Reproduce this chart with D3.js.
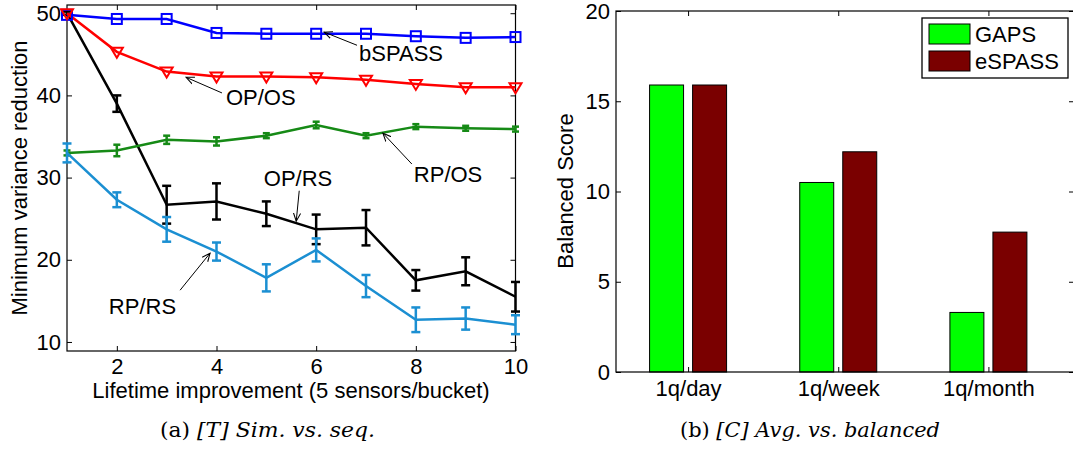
<!DOCTYPE html>
<meta charset="utf-8">
<script src="https://d3js.org/d3.v7.min.js"></script>
<style>
  body { margin: 0; background: #fff; }
  text { font-family: "Liberation Sans", Arial, sans-serif; font-size: 22px; fill: #000; }
  .cap { font-family: "DejaVu Serif", "Liberation Serif", serif; font-size: 20px; }
</style>
<div id="my_dataviz"></div>
<script>

// ---- data, left panel (a) ----
var lifetime = [1, 2, 3, 4, 5, 6, 7, 8, 9, 10];
var bspass   = [49.8, 49.3, 49.3, 47.6, 47.5, 47.5, 47.5, 47.2, 47.0, 47.1];
var opos     = [50.0, 45.3, 42.9, 42.3, 42.3, 42.2, 41.9, 41.4, 41.0, 41.0];
var rpos     = [33.0, 33.3, 34.6, 34.4, 35.1, 36.4, 35.1, 36.2, 36.0, 35.9];
var rposErr  = [0.3, 0.7, 0.5, 0.5, 0.3, 0.4, 0.3, 0.3, 0.3, 0.3];
var oprs     = [50.0, 39.0, 26.7, 27.1, 25.6, 23.7, 23.9, 17.5, 18.6, 15.5];
var oprsErr  = [0.2, 1.0, 2.3, 2.2, 1.5, 1.8, 2.15, 1.25, 1.7, 1.8];
var rprs     = [33.0, 27.3, 23.7, 21.0, 17.8, 21.2, 16.8, 12.7, 12.85, 12.1];
var rprsErr  = [1.15, 0.9, 1.5, 1.1, 1.65, 1.4, 1.35, 1.5, 1.35, 1.15];
var xTicksA  = [2, 4, 6, 8, 10];
var yTicksA  = [10, 20, 30, 40, 50];

// ---- data, right panel (b) ----
var periods  = ["1q/day", "1q/week", "1q/month"];
var schemes  = ["GAPS", "eSPASS"];
var gaps     = [15.9, 10.5, 3.3];
var espass   = [15.9, 12.2, 7.75];
var yTicksB  = [0, 5, 10, 15, 20];

var svg = d3.select("#my_dataviz")
  .append("svg")
    .attr("width", 1073)
    .attr("height", 449);

svg.append("defs").append("marker")
    .attr("id", "arrow")
    .attr("viewBox", "0 0 10 10")
    .attr("refX", 9).attr("refY", 5)
    .attr("markerWidth", 9).attr("markerHeight", 9)
    .attr("markerUnits", "userSpaceOnUse")
    .attr("orient", "auto")
  .append("path")
    .attr("d", "M0,1 L9,5 L0,9")
    .attr("fill", "none")
    .attr("stroke", "black")
    .attr("stroke-width", 1.2);

// ================= panel (a) =================
var x = d3.scaleLinear().domain([1, 10]).range([67, 515.5]);
var y = d3.scaleLinear().domain([8.9, 51]).range([351, 5]);

function styleAxis(g) {
  g.selectAll("path").remove();
  g.selectAll("line").attr("stroke", "black");
  g.selectAll("text").style("font-size", "22px").style("font-family", "Liberation Sans, Arial, sans-serif");
}

svg.append("g").attr("transform", "translate(0,351)")
  .call(d3.axisBottom(x).tickValues(xTicksA).tickSizeInner(-5).tickSizeOuter(0).tickPadding(7))
  .call(styleAxis);
svg.append("g").attr("transform", "translate(0,5)")
  .call(d3.axisTop(x).tickValues(xTicksA).tickSizeInner(-5).tickSizeOuter(0).tickFormat(""))
  .call(styleAxis);
svg.append("g").attr("transform", "translate(67,0)")
  .call(d3.axisLeft(y).tickValues(yTicksA).tickSizeInner(-5).tickSizeOuter(0).tickPadding(6))
  .call(styleAxis);
svg.append("g").attr("transform", "translate(515.5,0)")
  .call(d3.axisRight(y).tickValues(yTicksA).tickSizeInner(-5).tickSizeOuter(0).tickFormat(""))
  .call(styleAxis);

svg.append("rect")
  .attr("x", 67).attr("y", 5).attr("width", 515.5 - 67).attr("height", 346)
  .attr("fill", "none").attr("stroke", "black").attr("stroke-width", 1.2);

var line = d3.line()
  .x(function(d, i) { return x(lifetime[i]) })
  .y(function(d) { return y(d) });

function drawSeries(vals, err, color, capW) {
  svg.append("path")
    .datum(vals)
    .attr("fill", "none")
    .attr("stroke", color)
    .attr("stroke-width", 2.5)
    .attr("d", line);
  if (!err) return;
  var g = svg.append("g").attr("stroke", color).attr("stroke-width", 2.5);
  vals.forEach(function(v, i) {
    var cx = x(lifetime[i]), y1 = y(v + err[i]), y2 = y(v - err[i]);
    g.append("line").attr("x1", cx).attr("x2", cx).attr("y1", y1).attr("y2", y2);
    g.append("line").attr("x1", cx - capW).attr("x2", cx + capW).attr("y1", y1).attr("y2", y1);
    g.append("line").attr("x1", cx - capW).attr("x2", cx + capW).attr("y1", y2).attr("y2", y2);
  });
}

drawSeries(oprs, oprsErr, "black", 4.5);
drawSeries(rpos, rposErr, "#168a16", 3.5);
drawSeries(rprs, rprsErr, "#1b8fd2", 4.5);
drawSeries(bspass, null, "#0000ff");
drawSeries(opos, null, "#ff0000");

svg.append("g").selectAll("rect")
  .data(bspass).enter().append("rect")
    .attr("x", function(d, i) { return x(lifetime[i]) - 5 })
    .attr("y", function(d) { return y(d) - 5 })
    .attr("width", 10).attr("height", 10)
    .attr("fill", "none").attr("stroke", "#0000ff").attr("stroke-width", 2);

svg.append("g").selectAll("path")
  .data(opos).enter().append("path")
    .attr("transform", function(d, i) { return "translate(" + x(lifetime[i]) + "," + y(d) + ")" })
    .attr("d", "M-6,-4 L6,-4 L0,6 Z")
    .attr("fill", "none").attr("stroke", "#ff0000").attr("stroke-width", 2);

// labels with arrows, in data coordinates: text start, text centre, arrow tail, arrow tip
var notes = [
  {t: "bSPASS", tx: 6.86, ty: 45.15, ax: 6.82, ay: 46.1, bx: 6.16, by: 47.7},
  {t: "OP/OS",  tx: 4.19, ty: 39.8,  ax: 4.11, ay: 40.3, bx: 3.39, by: 42.2},
  {t: "RP/OS",  tx: 7.96, ty: 30.4,  ax: 7.92, ay: 31.65, bx: 7.34, by: 35.4},
  {t: "OP/RS",  tx: 4.95, ty: 29.9,  ax: 5.66, ay: 28.4, bx: 5.6, by: 24.7},
  {t: "RP/RS",  tx: 1.84, ty: 14.4,  ax: 3.27, ay: 16.3, bx: 3.87, by: 20.8}
];
notes.forEach(function(n) {
  svg.append("line")
    .attr("x1", x(n.ax)).attr("y1", y(n.ay))
    .attr("x2", x(n.bx)).attr("y2", y(n.by))
    .attr("stroke", "black").attr("stroke-width", 1)
    .attr("marker-end", "url(#arrow)");
  svg.append("text")
    .attr("x", x(n.tx)).attr("y", y(n.ty))
    .attr("dy", "0.36em")
    .text(n.t);
});

svg.append("text")
  .attr("transform", "translate(19,178) rotate(-90)")
  .attr("text-anchor", "middle").attr("dy", "0.36em")
  .text("Minimum variance reduction");
svg.append("text")
  .attr("x", 291).attr("y", 398)
  .attr("text-anchor", "middle")
  .text("Lifetime improvement (5 sensors/bucket)");
svg.append("text").attr("class", "cap")
  .attr("x", 160).attr("y", 437)
  .attr("textLength", 215).attr("lengthAdjust", "spacingAndGlyphs")
  .html('(a) <tspan font-style="italic">[T] Sim. vs. seq.</tspan>');

// ================= panel (b) =================
var xb = d3.scaleLinear().domain([0.52, 3.57]).range([616, 1074]);
var yb = d3.scaleLinear().domain([0, 20]).range([372, 11]);
var inner = d3.scaleBand().domain(schemes).range([-38.5, 38.5]).paddingInner(0.21);
var color = d3.scaleOrdinal().domain(schemes).range(["#00ff00", "#7a0000"]);
var catIdx = periods.map(function(d, i) { return i + 1 });

svg.append("g").attr("transform", "translate(0,372)")
  .call(d3.axisBottom(xb).tickValues(catIdx).tickSizeInner(-5).tickSizeOuter(0).tickPadding(8)
    .tickFormat(function(d) { return periods[d - 1] }))
  .call(styleAxis);
svg.append("g").attr("transform", "translate(0,11)")
  .call(d3.axisTop(xb).tickValues(catIdx).tickSizeInner(-5).tickSizeOuter(0).tickFormat(""))
  .call(styleAxis);
svg.append("g").attr("transform", "translate(616,0)")
  .call(d3.axisLeft(yb).tickValues(yTicksB).tickSizeInner(-5).tickSizeOuter(0).tickPadding(6))
  .call(styleAxis);
svg.append("g").attr("transform", "translate(1074,0)")
  .call(d3.axisRight(yb).tickValues(yTicksB).tickSizeInner(-5).tickSizeOuter(0).tickFormat(""))
  .call(styleAxis);

var barData = [];
periods.forEach(function(p, i) {
  barData.push({s: "GAPS", i: i + 1, v: gaps[i]});
  barData.push({s: "eSPASS", i: i + 1, v: espass[i]});
});
svg.append("g").selectAll("rect")
  .data(barData).enter().append("rect")
    .attr("x", function(d) { return xb(d.i) + inner(d.s) })
    .attr("y", function(d) { return yb(d.v) })
    .attr("width", inner.bandwidth())
    .attr("height", function(d) { return yb(0) - yb(d.v) })
    .attr("fill", function(d) { return color(d.s) })
    .attr("stroke", "black").attr("stroke-width", 1);

svg.append("rect")
  .attr("x", 616).attr("y", 11).attr("width", 1074 - 616).attr("height", 361)
  .attr("fill", "none").attr("stroke", "black").attr("stroke-width", 1.2);

// legend
var leg = svg.append("g");
leg.append("rect")
  .attr("x", 922).attr("y", 18).attr("width", 146).attr("height", 60)
  .attr("fill", "white").attr("stroke", "black").attr("stroke-width", 1.3);
schemes.forEach(function(s, k) {
  leg.append("rect")
    .attr("x", 929).attr("y", 24 + k * 27).attr("width", 41).attr("height", 20)
    .attr("fill", color(s)).attr("stroke", "black").attr("stroke-width", 1);
  leg.append("text")
    .attr("x", 975).attr("y", 34 + k * 27).attr("dy", "0.36em")
    .text(s);
});

svg.append("text")
  .attr("transform", "translate(565,191) rotate(-90)")
  .attr("text-anchor", "middle").attr("dy", "0.36em")
  .text("Balanced Score");
svg.append("text").attr("class", "cap")
  .attr("x", 680).attr("y", 437)
  .attr("textLength", 260).attr("lengthAdjust", "spacingAndGlyphs")
  .html('(b) <tspan font-style="italic">[C] Avg. vs. balanced</tspan>');

</script>
